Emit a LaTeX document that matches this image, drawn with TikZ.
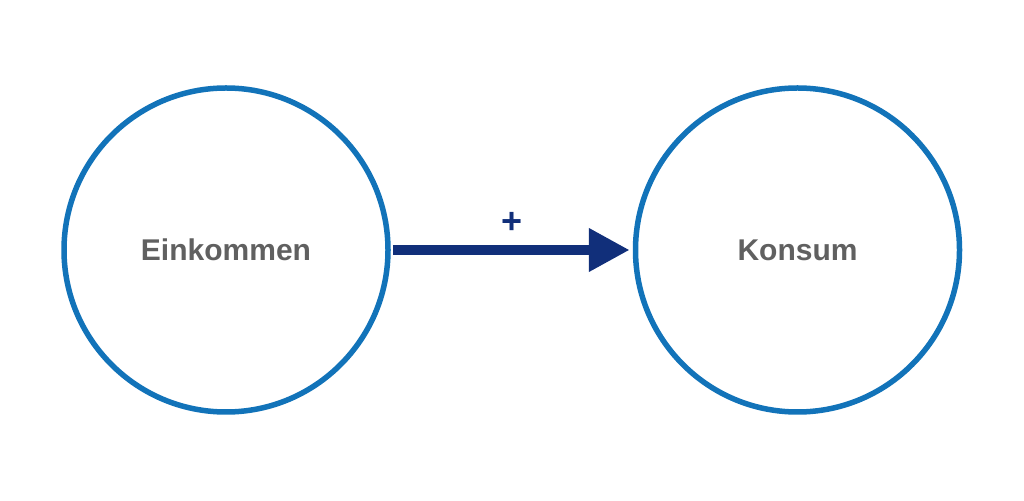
\documentclass[tikz,border=0pt]{standalone}
\usepackage{fontspec}
\setmainfont{Liberation Sans}
\usetikzlibrary{arrows.meta, positioning}
\definecolor{ringblue}{HTML}{1273B9}
\definecolor{arrownavy}{HTML}{112F7A}
\definecolor{labelgray}{HTML}{606060}
\tikzset{>=Triangle}

\begin{document}
\begin{tikzpicture}[x=1pt, y=1pt,
    ring/.style={circle, draw=ringblue, line width=5.5pt, minimum size=324pt,
        font=\fontsize{30}{35}\selectfont\bfseries, text=labelgray},
    link/.style={draw=arrownavy, line width=10.5pt,
        -{Triangle[length=41pt, width=41pt]}, shorten <=2pt, shorten >=3pt}]
    \useasboundingbox (0,0) rectangle (1024,500);

    \node[ring] (einkommen) at (226,250) {Einkommen};
    \node[ring] (konsum) at (797.5,250) {Konsum};

    \draw[link] (einkommen) -- (konsum)
        node[midway, yshift=27pt, text=arrownavy, font=\fontsize{36}{40}\selectfont\bfseries] (plus) {+};

\end{tikzpicture}
\end{document}
